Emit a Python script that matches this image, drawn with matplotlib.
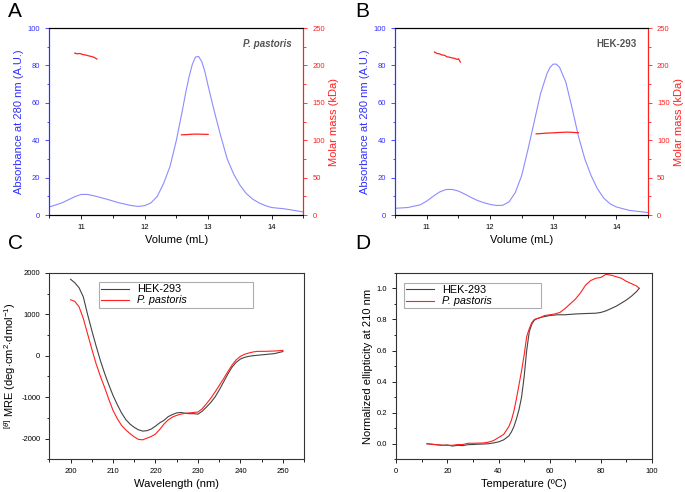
import matplotlib
matplotlib.use("Agg")
import matplotlib.pyplot as plt
from matplotlib.ticker import MultipleLocator

plt.rcParams['font.family'] = ['Liberation Sans', 'DejaVu Sans']
plt.rcParams['axes.unicode_minus'] = False
plt.rcParams['mathtext.fontset'] = 'custom'
plt.rcParams['mathtext.rm'] = 'Liberation Sans'
plt.rcParams['mathtext.it'] = 'Liberation Sans:italic'

# ---------------- Panel A (P. pastoris SEC-MALS) ----------------
vol_a = [10.5, 10.7, 10.9, 11.0, 11.1, 11.2, 11.4, 11.6, 11.8, 11.9, 12.0, 12.1, 12.2,
         12.3, 12.4, 12.5, 12.6, 12.65, 12.7, 12.75, 12.8, 12.85, 12.9, 12.95, 13.0, 13.1,
         13.2, 13.3, 13.4, 13.5, 13.6, 13.7, 13.8, 13.9, 14.0, 14.2, 14.4, 14.5]
abs_a = [4.3, 6.5, 9.8, 11.0, 11.0, 10.3, 8.5, 6.5, 5.0, 4.6, 5.0, 6.5, 10.0,
         17.0, 26.0, 40.0, 57.0, 66.0, 74.0, 80.5, 84.5, 84.8, 82.0, 76.5, 69.0, 55.0,
         42.0, 30.0, 22.0, 16.0, 11.5, 8.5, 6.5, 5.0, 4.0, 3.3, 2.2, 1.6]
mm_vol_a1 = [10.90, 10.94, 10.98, 11.03, 11.07, 11.11, 11.16, 11.20, 11.25]
mm_a1 = [216.5, 215.5, 216.0, 214.5, 214.0, 213.0, 212.0, 211.0, 208.5]
mm_vol_a2 = [12.58, 12.66, 12.74, 12.82, 12.90, 13.00]
mm_a2 = [107.2, 107.5, 108.0, 108.2, 108.0, 107.8]

# ---------------- Panel B (HEK-293 SEC-MALS) ----------------
vol_b = [10.5, 10.7, 10.9, 11.0, 11.1, 11.2, 11.3, 11.4, 11.5, 11.6, 11.7, 11.8, 11.9,
         12.0, 12.1, 12.2, 12.3, 12.4, 12.5, 12.6, 12.7, 12.8, 12.9, 12.95, 13.0, 13.05,
         13.1, 13.2, 13.3, 13.4, 13.5, 13.6, 13.7, 13.8, 13.9, 14.0, 14.2, 14.5]
abs_b = [3.6, 4.0, 5.5, 7.5, 10.0, 12.3, 13.6, 13.7, 12.8, 11.2, 9.4, 7.8, 6.6,
         5.7, 5.1, 5.2, 7.0, 12.0, 21.0, 35.0, 50.0, 65.0, 75.5, 79.0, 80.7, 80.7,
         79.0, 71.0, 57.0, 42.0, 30.0, 21.0, 14.0, 9.0, 6.0, 4.3, 2.5, 1.3]
mm_vol_b1 = [11.12, 11.16, 11.20, 11.24, 11.28, 11.32, 11.36, 11.40, 11.44, 11.48, 11.50, 11.53]
mm_b1 = [218.0, 216.0, 215.5, 214.0, 213.5, 211.5, 211.0, 210.0, 209.5, 208.0, 209.0, 204.5]
mm_vol_b2 = [12.73, 12.82, 12.90, 12.98, 13.06, 13.14, 13.22, 13.30, 13.40]
mm_b2 = [108.5, 109.0, 109.5, 109.8, 110.2, 110.5, 110.8, 110.5, 110.0]

# ---------------- Panel C (CD spectra) ----------------
wl = [200, 201, 202, 203, 204, 205, 206, 207, 208, 209, 210, 211, 212, 213, 214, 215,
      216, 217, 218, 219, 220, 221, 222, 223, 224, 225, 226, 227, 228, 229, 230, 231,
      232, 233, 234, 235, 236, 237, 238, 239, 240, 241, 242, 243, 244, 245, 246, 247,
      248, 249, 250]
mre_hek = [1845, 1760, 1640, 1420, 1000, 610, 240, -110, -420, -700, -960, -1180, -1380,
           -1540, -1650, -1730, -1790, -1820, -1810, -1770, -1700, -1620, -1560, -1470,
           -1420, -1380, -1370, -1390, -1400, -1400, -1410, -1340, -1240, -1130, -1000,
           -830, -640, -450, -280, -160, -80, -40, -15, 0, 10, 20, 30, 40, 50, 75, 100]
mre_pp = [1350, 1310, 1180, 900, 530, 160, -190, -490, -760, -1050, -1320, -1520, -1680,
          -1790, -1880, -1960, -2020, -2030, -1990, -1950, -1890, -1780, -1650, -1550,
          -1480, -1440, -1410, -1390, -1380, -1370, -1360, -1280, -1160, -1030, -880,
          -720, -560, -390, -230, -100, -15, 35, 65, 90, 105, 105, 105, 110, 113, 120, 130]

# ---------------- Panel D (thermal melt) ----------------
temp_hek = [12, 15, 18, 20, 22, 24, 26, 28, 30, 32, 34, 36, 38, 40, 42, 44, 45, 46, 47,
            48, 49, 50, 51, 52, 53, 54, 55, 57, 60, 63, 66, 70, 74, 78, 80, 82, 84, 86,
            88, 90, 92, 94, 95]
ell_hek = [0.0, -0.005, -0.01, -0.008, -0.015, -0.01, -0.012, -0.006, -0.005, -0.003,
           -0.002, 0.0, 0.005, 0.012, 0.025, 0.05, 0.075, 0.11, 0.16, 0.22, 0.30, 0.43,
           0.60, 0.72, 0.77, 0.795, 0.805, 0.815, 0.825, 0.83, 0.83, 0.835, 0.838, 0.84,
           0.845, 0.855, 0.87, 0.885, 0.905, 0.925, 0.95, 0.98, 1.0]
temp_pp = [12, 15, 18, 20, 22, 24, 26, 28, 30, 32, 34, 36, 38, 40, 42, 43, 44, 45, 46,
           47, 48, 49, 50, 51, 52, 53, 54, 56, 58, 60, 62, 64, 66, 68, 70, 72, 74, 76,
           78, 80, 82, 84, 86, 88, 90, 92, 94, 95]
ell_pp = [0.0, -0.005, -0.01, -0.01, -0.01, -0.005, -0.005, 0.003, 0.003, 0.004, 0.005,
          0.01, 0.02, 0.04, 0.06, 0.085, 0.11, 0.15, 0.21, 0.29, 0.38, 0.47, 0.57, 0.69,
          0.74, 0.78, 0.80, 0.81, 0.825, 0.83, 0.835, 0.845, 0.87, 0.90, 0.93, 0.97, 1.02,
          1.05, 1.065, 1.07, 1.09, 1.085, 1.075, 1.065, 1.045, 1.03, 1.015, 1.0]

BLUE = '#3030ff'
LBLUE = '#8c8cff'
RED = '#ff2020'
GRAY = '#444444'
TICK = 5.5
LAB = 8

fig = plt.figure(figsize=(6.85, 4.92), dpi=100)


def sec_panel(rect, vol, ab, v1, m1, v2, m2):
    ax = fig.add_axes(rect)
    ax.plot(vol, ab, color=LBLUE, lw=0.8)
    ax.set_xlim(10.5, 14.5)
    ax.set_ylim(0, 100)
    ax.xaxis.set_major_locator(MultipleLocator(1))
    ax.xaxis.set_minor_locator(MultipleLocator(0.5))
    ax.yaxis.set_major_locator(MultipleLocator(20))
    ax.yaxis.set_minor_locator(MultipleLocator(10))
    ax.tick_params(which='both', direction='out', labelsize=TICK, width=0.6)
    ax.tick_params(which='major', length=3)
    ax.tick_params(which='minor', length=1.8)
    ax.tick_params(axis='y', which='both', colors=BLUE)
    ax.spines['left'].set_color(BLUE)
    ax.spines['right'].set_color(RED)
    for s in ax.spines.values():
        s.set_linewidth(0.8)
    ax.set_ylabel('Absorbance at 280 nm (A.U.)', color=BLUE, fontsize=LAB, labelpad=3)
    ax.set_xlabel('Volume (mL)', fontsize=LAB, labelpad=3)
    ax2 = ax.twinx()
    ax2.plot(v1, m1, color=RED, lw=0.9)
    ax2.plot(v2, m2, color=RED, lw=0.9)
    ax2.set_ylim(0, 250)
    ax2.yaxis.set_major_locator(MultipleLocator(50))
    ax2.yaxis.set_minor_locator(MultipleLocator(25))
    ax2.tick_params(which='both', direction='out', labelsize=TICK, colors=RED, width=0.6)
    ax2.tick_params(which='major', length=3)
    ax2.tick_params(which='minor', length=1.8)
    ax2.spines['right'].set_color(RED)
    ax2.spines['left'].set_color(BLUE)
    for s in ax2.spines.values():
        s.set_linewidth(0.8)
    ax2.set_ylabel('Molar mass (kDa)', color=RED, fontsize=LAB, labelpad=3)
    return ax, ax2


axA, axA2 = sec_panel([0.072, 0.563, 0.371, 0.380], vol_a, abs_a, mm_vol_a1, mm_a1,
                      mm_vol_a2, mm_a2)
axA.text(0.955, 0.915, 'P. pastoris', transform=axA.transAxes, ha='right', va='center',
         fontsize=7, fontweight='bold', fontstyle='italic', color='#555555')
axB, axB2 = sec_panel([0.577, 0.563, 0.369, 0.380], vol_b, abs_b, mm_vol_b1, mm_b1,
                      mm_vol_b2, mm_b2)
axB.text(0.955, 0.915, 'HEK-293', transform=axB.transAxes, ha='right', va='center',
         fontsize=7, fontweight='bold', color='#555555')


def style_legend(leg):
    for t in leg.get_texts():
        if t.get_text() == 'P. pastoris':
            t.set_fontstyle('italic')
    leg.get_frame().set_edgecolor('#999999')
    leg.get_frame().set_linewidth(0.8)


# Panel C
axC = fig.add_axes([0.072, 0.0665, 0.372, 0.379])
axC.plot(wl, mre_hek, color=GRAY, lw=0.8, label='HEK-293')
axC.plot(wl, mre_pp, color=RED, lw=0.8, label='P. pastoris')
axC.set_xlim(195, 255)
axC.set_ylim(-2500, 2000)
axC.xaxis.set_major_locator(MultipleLocator(10))
axC.xaxis.set_minor_locator(MultipleLocator(5))
axC.yaxis.set_major_locator(MultipleLocator(1000))
axC.yaxis.set_minor_locator(MultipleLocator(500))
axC.set_xlabel('Wavelength (nm)', fontsize=LAB, labelpad=3)
axC.set_ylabel(r'$^{[\theta]}$ MRE (deg$\cdot$cm$^{2}$$\cdot$dmol$^{-1}$)', fontsize=LAB, labelpad=2)
legC = axC.legend(loc='upper left', bbox_to_anchor=(0.195, 0.85, 0.605, 0.1), mode='expand',
                  fontsize=7.8, frameon=True, fancybox=False, borderpad=0.2, handlelength=2.6,
                  handletextpad=0.7, labelspacing=0.1, borderaxespad=0)
style_legend(legC)

# Panel D
axD = fig.add_axes([0.5785, 0.0665, 0.3733, 0.379])
axD.plot(temp_hek, ell_hek, color=GRAY, lw=0.8, label='HEK-293')
axD.plot(temp_pp, ell_pp, color=RED, lw=0.8, label='P. pastoris')
axD.set_xlim(0, 100)
axD.set_ylim(-0.1, 1.1)
axD.xaxis.set_major_locator(MultipleLocator(20))
axD.xaxis.set_minor_locator(MultipleLocator(10))
axD.yaxis.set_major_locator(MultipleLocator(0.2))
axD.yaxis.set_minor_locator(MultipleLocator(0.1))
axD.set_xlabel('Temperature (ºC)', fontsize=LAB, labelpad=3)
axD.set_ylabel('Normalized ellipticity at 210 nm', fontsize=LAB, labelpad=3)
legD = axD.legend(loc='upper left', bbox_to_anchor=(0.03, 0.845, 0.536, 0.1), mode='expand',
                  fontsize=7.8, frameon=True, fancybox=False, borderpad=0.2, handlelength=2.6,
                  handletextpad=0.7, labelspacing=0.1, borderaxespad=0)
style_legend(legD)

for ax in (axC, axD):
    ax.tick_params(which='both', direction='out', labelsize=TICK, width=0.6)
    ax.tick_params(which='major', length=3)
    ax.tick_params(which='minor', length=1.8)
    for s in ax.spines.values():
        s.set_linewidth(0.8)
        s.set_color('#333333')

for txt, x, y in (('A', 0.012, 0.995), ('B', 0.518, 0.995), ('C', 0.012, 0.525), ('D', 0.518, 0.525)):
    fig.text(x, y, txt, fontsize=15, ha='left', va='top')

fig.savefig('out.png', dpi=100)
